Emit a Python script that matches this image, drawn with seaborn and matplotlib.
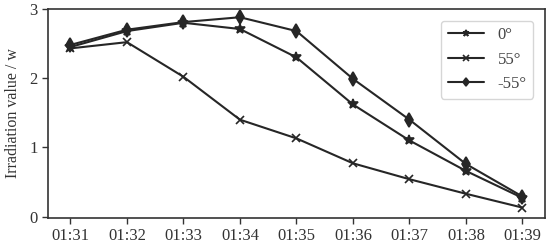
import matplotlib
matplotlib.use("Agg")
import matplotlib.pyplot as plt
import seaborn as sns
import pandas as pd
import numpy as np

times = ["01:31", "01:32", "01:33", "01:34", "01:35", "01:36", "01:37", "01:38", "01:39"]
deg0 = [2.45, 2.68, 2.80, 2.71, 2.30, 1.62, 1.10, 0.66, 0.27]
deg55 = [2.43, 2.52, 2.02, 1.40, 1.13, 0.77, 0.54, 0.33, 0.13]
degm55 = [2.48, 2.70, 2.81, 2.88, 2.68, 1.99, 1.40, 0.76, 0.29]
labels = ["0°", "55°", "-55°"]
markers = ["*", "x", "d"]

sns.set_theme(style="ticks")
plt.rcParams["font.family"] = ["Liberation Serif", "DejaVu Serif"]

fig = plt.figure(figsize=(5.5, 2.48), dpi=100)
ax = fig.add_axes([0.087, 0.121, 0.904, 0.843])

idx = np.arange(len(times))
color = "#262626"
for vals, lab, mk in zip([deg0, deg55, degm55], labels, markers):
    df = pd.DataFrame({"t": idx, "v": vals})
    sns.lineplot(data=df, x="t", y="v", ax=ax, color=color, marker=mk,
                 markersize=7 if mk != "x" else 6, markeredgecolor=color,
                 markeredgewidth=1.2, linewidth=1.5, label=lab)

ax.set_xticks(idx)
ax.set_xticklabels(times)
ax.set_ylim(-0.02, 3.0)
ax.set_yticks([0, 1, 2, 3])
ax.set_xlabel("")
ax.set_ylabel("Irradiation value / w", fontsize=11.5, color="#333333", labelpad=6)
ax.tick_params(labelsize=12, colors="#333333", length=4, width=1)
for s in ax.spines.values():
    s.set_color("#333333")
    s.set_linewidth(1.2)
leg = ax.legend(loc="upper right", fontsize=12, frameon=True, handlelength=2.2,
                markerscale=0.65, borderaxespad=0.7)
for t in leg.get_texts():
    t.set_color("#444444")
fig.savefig("out.png", dpi=100)
